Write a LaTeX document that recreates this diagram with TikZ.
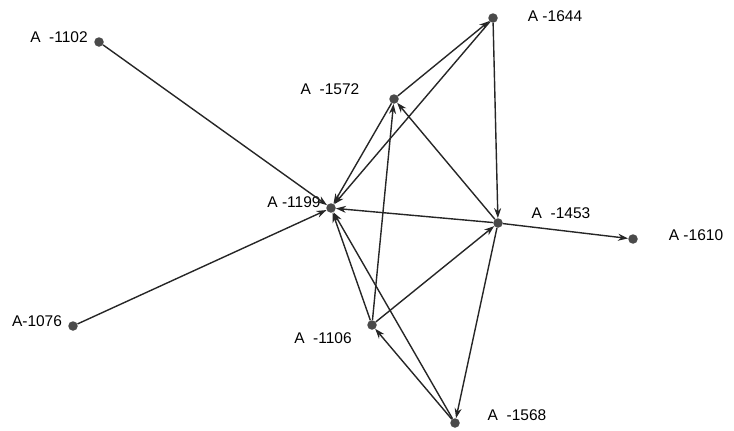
\documentclass[tikz,border=0pt]{standalone}
\usepackage{fontspec}
\setmainfont{Liberation Sans}
\usetikzlibrary{arrows.meta}
\definecolor{edgec}{HTML}{262626}
\definecolor{dotc}{HTML}{4A4A4A}
\begin{document}
\begin{tikzpicture}[x=1pt,y=-1pt,
  vtx/.style={circle,fill=dotc,inner sep=0pt,minimum size=9.5pt},
  lbl/.style={font=\fontsize{15.5}{15.5}\selectfont,text=black,inner sep=0pt},
  edge/.style={draw=edgec,line width=1.4pt,-{Stealth[length=10pt,width=7pt]}}]
\useasboundingbox (0,0) rectangle (734,431);
\node[vtx] (n1102) at (99,42) {};
\node[vtx] (n1644) at (493,18) {};
\node[vtx] (n1572) at (394,99) {};
\node[vtx] (n1199) at (331,208) {};
\node[vtx] (n1453) at (498,223) {};
\node[vtx] (n1610) at (633,239) {};
\node[vtx] (n1076) at (73,326) {};
\node[vtx] (n1106) at (372,325) {};
\node[vtx] (n1568) at (455,423) {};
\node[lbl] (l1102) at (59,37) {A\ \ -1102};
\node[lbl] (l1644) at (555,16) {A -1644};
\node[lbl] (l1572) at (330,89) {A\ \ -1572};
\node[lbl] (l1199) at (294,202) {A -1199};
\node[lbl] (l1453) at (561,213) {A\ \ -1453};
\node[lbl] (l1610) at (696,235) {A -1610};
\node[lbl] (l1076) at (37,321) {A-1076};
\node[lbl] (l1106) at (323,338) {A\ \ -1106};
\node[lbl] (l1568) at (517,415) {A\ \ -1568};
\draw[edge] (n1102) -- (n1199);
\draw[edge] (n1076) -- (n1199);
\draw[edge] (n1572) -- (n1199);
\draw[edge] (n1644) -- (n1199);
\draw[edge] (n1572) -- (n1644);
\draw[edge] (n1644) -- (n1453);
\draw[edge] (n1453) -- (n1572);
\draw[edge] (n1106) -- (n1572);
\draw[edge] (n1453) -- (n1199);
\draw[edge] (n1453) -- (n1610);
\draw[edge] (n1106) -- (n1453);
\draw[edge] (n1453) -- (n1568);
\draw[edge] (n1568) -- (n1106);
\draw[edge] (n1568) -- (n1199);
\draw[edge] (n1106) -- (n1199);
\end{tikzpicture}
\end{document}
